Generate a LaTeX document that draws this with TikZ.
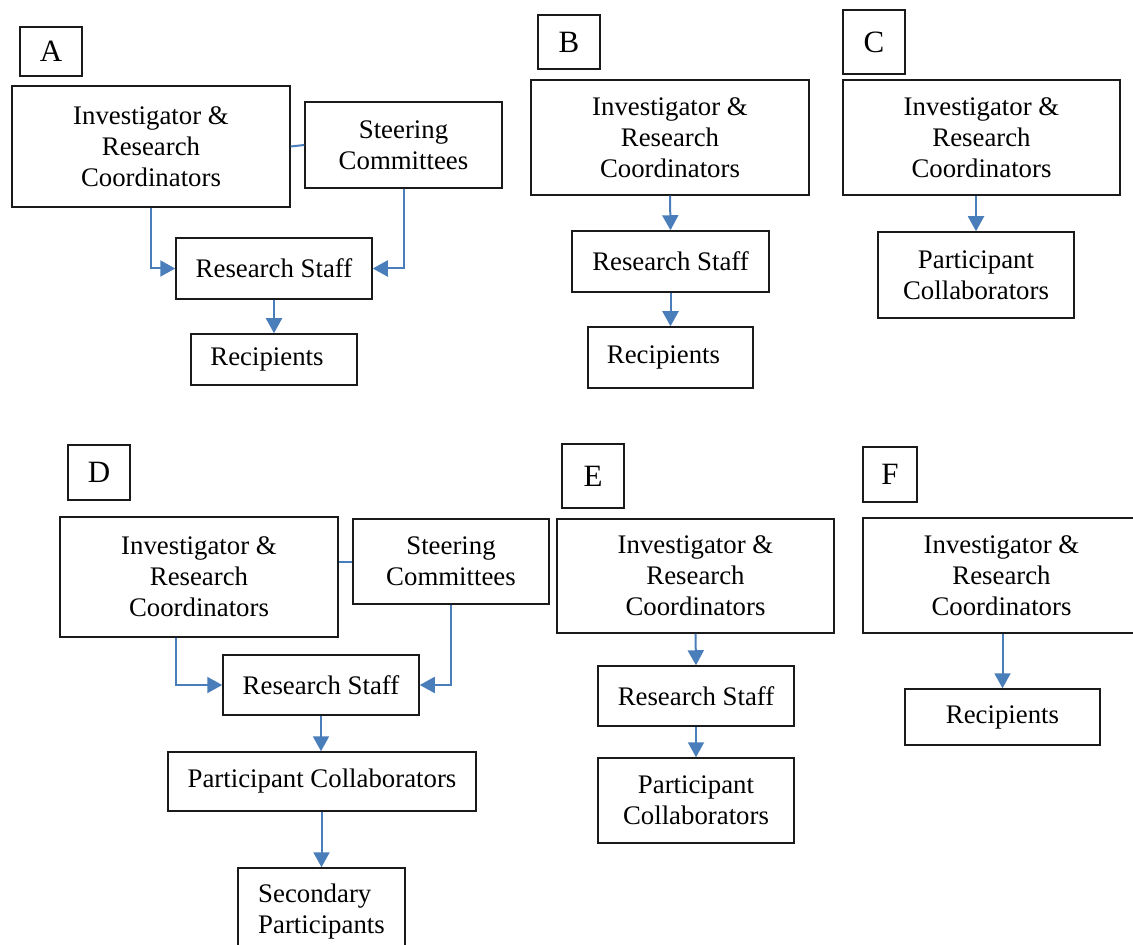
\documentclass[tikz,border=0pt]{standalone}
\usepackage{fontspec}
\setmainfont{Liberation Serif}
\usetikzlibrary{arrows.meta,calc}

\definecolor{linkblue}{HTML}{4A7EBB}
\definecolor{boxline}{HTML}{1A1A1A}

\tikzset{
  box/.style={draw=boxline, line width=0.75pt, fill=white, inner sep=0pt,
    align=center, font=\fontsize{13.4}{15.5}\selectfont},
  tag/.style={box, font=\fontsize{15.5}{17}\selectfont},
  link/.style={draw=linkblue, line width=1pt},
  flow/.style={link, -{Triangle[width=8pt,length=7.5pt]}},
}

% \panelbox[style]{name}{x1}{y1}{x2}{y2}{text}: a box given by its corners (in px units)
\newcommand{\panelbox}[7][box]{%
  \node[#1, minimum width={(#5-#3)*0.5pt}, minimum height={(#6-#4)*0.5pt}]
    (#2) at ({(#3+#5)/2},{(#4+#6)/2}) {#7};}

\begin{document}
\begin{tikzpicture}[x=0.5pt, y=-0.5pt]
\path[use as bounding box, clip] (0,0) rectangle (1133,945);
\fill[white] (0,0) rectangle (1133,945);

% ---- A ----
\panelbox[tag]{labA}{20}{27}{82}{76}{A}
\panelbox{invA}{12}{86}{290}{207}{Investigator \&\\Research\\Coordinators}
\panelbox{steerA}{305}{102}{502}{188}{Steering\\Committees}
\panelbox{rsA}{176}{238}{372}{299}{Research Staff}
\panelbox{recA}{191}{334}{357}{385}{Recipients\hspace*{7pt}}
\draw[link] (invA.east) -- (steerA.west);
\draw[flow] (invA.south) |- (rsA.west);
\draw[flow] (steerA.south) |- (rsA.east);
\draw[flow] (rsA.south) -- (recA.north);

% ---- B ----
\panelbox[tag]{labB}{538}{15}{600}{69}{B}
\panelbox{invB}{531}{80}{809}{195}{Investigator \&\\Research\\Coordinators}
\panelbox{rsB}{572}{231}{769}{292}{Research Staff}
\panelbox{recB}{588}{327}{753}{388}{Recipients\hspace*{7pt}}
\draw[flow] (invB.south) -- (rsB.north);
\draw[flow] (rsB.south) -- (recB.north);

% ---- C ----
\panelbox[tag]{labC}{843}{10}{905}{74}{C}
\panelbox{invC}{843}{80}{1120}{195}{Investigator \&\\Research\\Coordinators}
\panelbox{pcC}{878}{232}{1074}{318}{Participant\\Collaborators}
\draw[flow] (invC.south -| pcC.north) -- (pcC.north);

% ---- D ----
\panelbox[tag]{labD}{68}{445}{130}{500}{D}
\panelbox{invD}{60}{517}{338}{637}{Investigator \&\\Research\\Coordinators}
\panelbox{steerD}{353}{519}{549}{604}{Steering\\Committees}
\panelbox{rsD}{223}{655}{419}{715}{Research Staff}
\panelbox{pcD}{168}{752}{476}{811}{Participant Collaborators}
\panelbox{secD}{238}{868}{405}{955}{\begin{tabular}{@{}l@{}}Secondary\\Participants\end{tabular}}
\draw[link] (invD.east |- steerD.west) -- (steerD.west);
\draw[flow] ($(invD.south west)!0.418!(invD.south east)$) |- (rsD.west);
\draw[flow] (steerD.south) |- (rsD.east);
\draw[flow] (rsD.south) -- (pcD.north -| rsD.south);
\draw[flow] (pcD.south -| secD.north) -- (secD.north);

% ---- E ----
\panelbox[tag]{labE}{562}{444}{624}{508}{E}
\panelbox{invE}{557}{519}{834}{633}{Investigator \&\\Research\\Coordinators}
\panelbox{rsE}{598}{666}{794}{726}{Research Staff}
\panelbox{pcE}{598}{758}{794}{843}{Participant\\Collaborators}
\draw[flow] (invE.south) -- (rsE.north);
\draw[flow] (rsE.south) -- (pcE.north);

% ---- F ----
\panelbox[tag]{labF}{863}{447}{917}{502}{F}
\panelbox{invF}{863}{518}{1140}{633}{Investigator \&\\Research\\Coordinators}
\panelbox{recF}{905}{689}{1100}{745}{Recipients}
\draw[flow] (invF.south -| recF.north) -- (recF.north);
\end{tikzpicture}
\end{document}
